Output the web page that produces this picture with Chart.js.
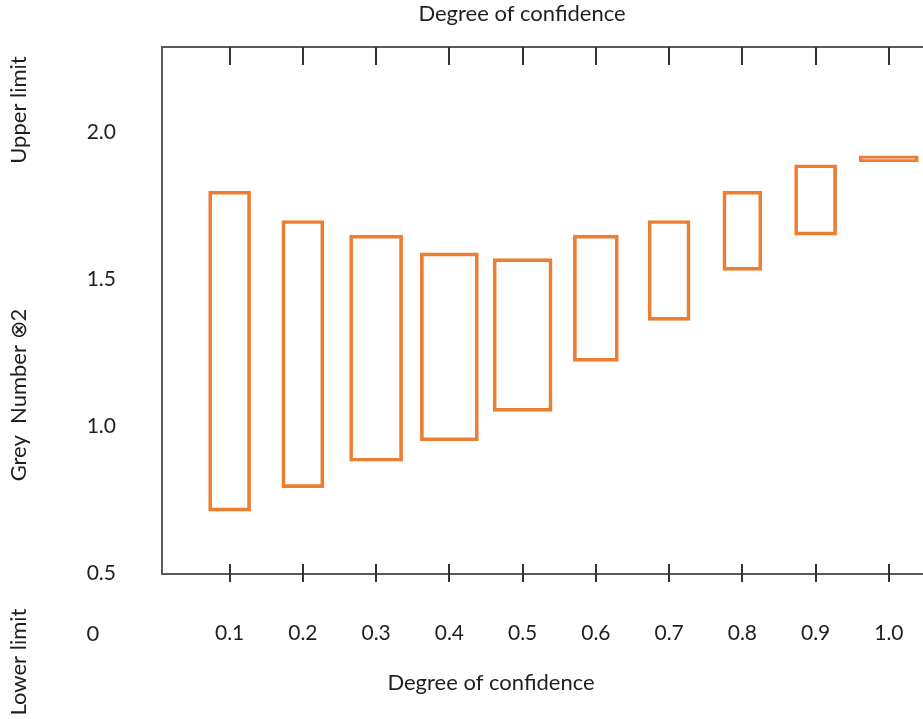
<!DOCTYPE html>
<html lang="en">
<head>
  <meta charset="UTF-8" />
  <title>Grey Number by degree of confidence</title>
  <script src="https://cdn.jsdelivr.net/npm/chart.js"></script>
  <style>
    html, body { margin: 0; padding: 0; background: #fff; overflow: hidden; }
  </style>
</head>
<body>
  <canvas id="greyChart" width="923" height="719"></canvas>

  <script>
    // degree of confidence (x) and the interval of the grey number at each level
    const degrees = [0.1, 0.2, 0.3, 0.4, 0.5, 0.6, 0.7, 0.8, 0.9, 1.0];
    const upperLimit = [1.80, 1.70, 1.65, 1.59, 1.57, 1.65, 1.70, 1.80, 1.89, 1.92];
    const lowerLimit = [0.71, 0.79, 0.88, 0.95, 1.05, 1.22, 1.36, 1.53, 1.65, 1.90];
    const yTickValues = [0.5, 1.0, 1.5, 2.0];

    // box widths in px, they differ a bit in the original drawing
    const boxWidths = [42, 42, 53, 58, 59, 45, 42, 39, 42, 59];

    const FONT = "Lato, 'Open Sans', sans-serif";
    const ORANGE = "#ED7D31";
    const AXIS = "#595959";
    const HIDDEN = "rgba(0,0,0,0)";

    // one dataset per box so every box can keep its own width
    const datasets = degrees.map((d, i) => ({
      label: d.toFixed(1),
      data: [{ x: d, y: [lowerLimit[i], upperLimit[i]] }],
      backgroundColor: HIDDEN,
      borderColor: ORANGE,
      borderWidth: 3,
      borderSkipped: false,
      barThickness: boxWidths[i],
      grouped: false
    }));

    // frame top line, tick marks and the free text round the plot
    const frameAndNotes = {
      id: "frameAndNotes",
      afterDraw(chart) {
        const { ctx, chartArea: a, scales: { x } } = chart;
        ctx.save();
        ctx.strokeStyle = AXIS;
        ctx.lineWidth = 2;
        ctx.beginPath();
        ctx.moveTo(a.left, a.top);
        ctx.lineTo(a.right, a.top);
        ctx.stroke();

        ctx.strokeStyle = "#333";
        x.ticks.forEach(t => {
          const px = Math.round(x.getPixelForValue(t.value));
          ctx.beginPath();
          ctx.moveTo(px, a.top);
          ctx.lineTo(px, a.top + 18);
          ctx.moveTo(px, a.bottom - 10);
          ctx.lineTo(px, a.bottom + 8);
          ctx.stroke();
        });

        ctx.fillStyle = "#1f1f1f";
        ctx.font = "22px " + FONT;
        ctx.textAlign = "center";
        ctx.textBaseline = "middle";
        ctx.fillText("Degree of confidence", 522, 14);
        ctx.fillText("Degree of confidence", 491, 683);
        ctx.fillText("0", 93, 634);

        const vertical = (text, cx, cy) => {
          ctx.save();
          ctx.translate(cx, cy);
          ctx.rotate(-Math.PI / 2);
          ctx.fillText(text, 0, 0);
          ctx.restore();
        };
        vertical("Upper limit", 19, 110);
        vertical("Grey  Number \u22972", 19, 395);
        vertical("Lower limit", 19, 662);
        ctx.restore();
      }
    };

    new Chart(document.getElementById("greyChart"), {
      type: "bar",
      data: { datasets },
      options: {
        responsive: false,
        animation: false,
        layout: { padding: { top: 47, left: 0, right: 0, bottom: 0 } },
        plugins: {
          legend: { display: false },
          tooltip: { enabled: false }
        },
        scales: {
          x: {
            type: "linear",
            offset: false,
            min: 0.0077,
            max: 1.0466,
            afterBuildTicks: scale => {
              scale.ticks = degrees.map(v => ({ value: v }));
            },
            afterFit: scale => { scale.height = 145; },
            // invisible tick marks only push the labels down
            grid: { drawOnChartArea: false, drawTicks: true, tickLength: 47, tickColor: HIDDEN, offset: false },
            border: { display: true, color: AXIS, width: 2 },
            ticks: {
              autoSkip: false,
              maxRotation: 0,
              padding: 0,
              color: "#1f1f1f",
              font: { family: FONT, size: 21 },
              callback: v => Number(v).toFixed(1)
            }
          },
          y: {
            min: 0.496,
            max: 2.291,
            afterBuildTicks: scale => {
              scale.ticks = yTickValues.map(v => ({ value: v }));
            },
            afterFit: scale => { scale.width = 162; },
            grid: { drawOnChartArea: false, drawTicks: true, tickLength: 46, tickColor: HIDDEN },
            border: { display: true, color: AXIS, width: 2 },
            ticks: {
              padding: 0,
              color: "#1f1f1f",
              font: { family: FONT, size: 21 },
              callback: v => Number(v).toFixed(1)
            }
          }
        }
      },
      plugins: [frameAndNotes]
    });
  </script>
</body>
</html>
